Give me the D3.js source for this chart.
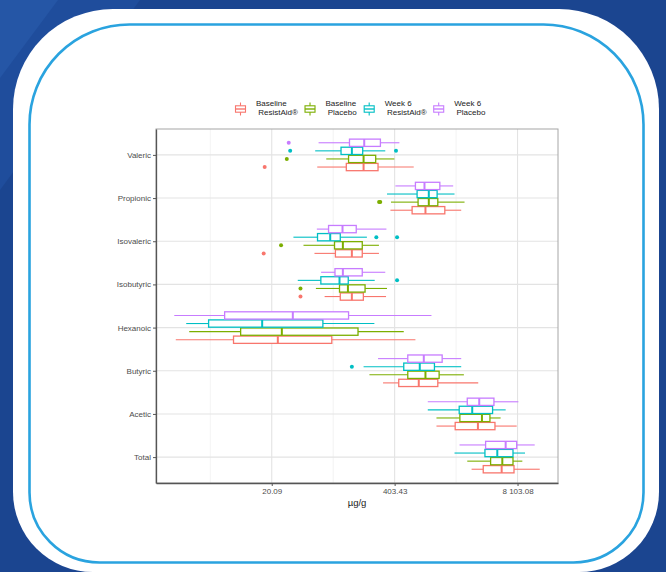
<!DOCTYPE html>
<html>
<head>
<meta charset="utf-8">
<script src="https://cdn.jsdelivr.net/npm/d3@7"></script>
<style>
  html, body { margin: 0; padding: 0; background: #1b4590; }
  svg { display: block; font-family: "Liberation Sans", Arial, sans-serif; }
</style>
</head>
<body>
<svg id="chart" width="666" height="572"></svg>
<script>
// Short-chain fatty acids, µg/g, five-number summaries [lower whisker, Q1, median, Q3, upper whisker]
const categories = ["Valeric", "Propionic", "Isovaleric", "Isobutyric", "Hexanoic", "Butyric", "Acetic", "Total"];

const groupKeys = ["baselineResistAid", "baselinePlacebo", "week6ResistAid", "week6Placebo"];
const groupLabels = [["Baseline", " ResistAid®"], ["Baseline", " Placebo"], ["Week 6", " ResistAid®"], ["Week 6", " Placebo"]];
const groupColors = ["#F8766D", "#7CAE00", "#00BFC4", "#C77CFF"];

const baselineResistAid = [
  [61, 124, 189, 269, 643],
  [364, 618, 856, 1373, 2049],
  [57, 95, 142, 183, 275],
  [73, 107, 142, 188, 327],
  [1.93, 7.9, 23.3, 87, 670],
  [304, 446, 727, 1157, 3105],
  [1120, 1769, 3081, 4670, 7936],
  [2640, 3508, 5500, 7433, 13930]
];
const baselinePlacebo = [
  [76, 131, 189, 254, 401],
  [369, 715, 929, 1157, 2222],
  [43.6, 93, 114, 183, 275],
  [59, 105, 129, 196, 335],
  [2.68, 9.4, 25.7, 165, 504],
  [218, 556, 856, 1195, 2187],
  [1120, 1983, 3399, 4131, 5363],
  [2375, 4200, 5589, 7253, 9110]
];
const week6ResistAid = [
  [58, 109, 142, 185, 321],
  [335, 698, 929, 1138, 1740],
  [34.1, 61.4, 83.7, 107, 205],
  [37.9, 66.6, 105, 130, 248],
  [2.49, 4.3, 15.9, 70, 246],
  [189, 504, 745, 1066, 2049],
  [906, 1951, 2681, 4407, 6064],
  [1740, 3657, 4944, 7253, 9731]
];
const week6Placebo = [
  [63, 134, 192, 285, 453],
  [411, 670, 836, 1216, 1684],
  [60.4, 80.4, 113, 158, 330],
  [67, 94, 114, 183, 321],
  [1.86, 6.36, 33.6, 131, 991],
  [269, 556, 822, 1287, 2049],
  [906, 2375, 3182, 4555, 8267],
  [1967, 3716, 6064, 7936, 12320]
];

// Outlying points: [category, value]
const outliersBaselineResistAid = [["Valeric", 16.9], ["Isovaleric", 16.5], ["Isobutyric", 40.5]];
const outliersBaselinePlacebo = [["Valeric", 29.0], ["Propionic", 276], ["Propionic", 284], ["Isovaleric", 25.2], ["Isobutyric", 40.5]];
const outliersWeek6ResistAid = [["Valeric", 31.5], ["Valeric", 417], ["Isovaleric", 258], ["Isovaleric", 428], ["Isobutyric", 428], ["Butyric", 142]];
const outliersWeek6Placebo = [["Valeric", 30.4]];

const xTickValues = [Math.exp(3), Math.exp(6), Math.exp(9)];
const xTickLabels = ["20.09", "403.43", "8 103.08"];
const xMinorValues = [Math.exp(1.5), Math.exp(4.5), Math.exp(7.5)];
const xTitle = "µg/g";

const summaries = [baselineResistAid, baselinePlacebo, week6ResistAid, week6Placebo];
const outliers = [outliersBaselineResistAid, outliersBaselinePlacebo, outliersWeek6ResistAid, outliersWeek6Placebo];

const svg = d3.select("#chart");
const W = 666, H = 572;

// ---- backdrop ----
svg.append("rect").attr("width", W).attr("height", H).attr("fill", "#1b4590");
svg.append("path").attr("d", "M0,0 L140,0 L0,190 Z").attr("fill", "#1f4d9c");
svg.append("path").attr("d", "M0,0 L58,0 L0,78 Z").attr("fill", "#2556a6");

function roundedRect(x0, y0, x1, y1, rt, rb) {
  return `M${x0 + rt},${y0} L${x1 - rt},${y0} A${rt},${rt} 0 0 1 ${x1},${y0 + rt}` +
         ` L${x1},${y1 - rb} A${rb},${rb} 0 0 1 ${x1 - rb},${y1}` +
         ` L${x0 + rb},${y1} A${rb},${rb} 0 0 1 ${x0},${y1 - rb}` +
         ` L${x0},${y0 + rt} A${rt},${rt} 0 0 1 ${x0 + rt},${y0} Z`;
}
svg.append("path").attr("d", roundedRect(13, 9, 659, 572, 100, 80)).attr("fill", "#ffffff");
svg.append("path").attr("d", roundedRect(29.5, 24.5, 643.5, 562.5, 100, 70))
  .attr("fill", "none").attr("stroke", "#2aa3df").attr("stroke-width", 2.6);

// ---- plot panel ----
const panel = { left: 156, right: 558, top: 129, bottom: 483 };

const allValues = [];
summaries.forEach(s => s.forEach(r => allValues.push(r[0], r[4])));
outliers.forEach(o => o.forEach(p => allValues.push(p[1])));
const lnExt = d3.extent(allValues, v => Math.log(v));
const pad = (lnExt[1] - lnExt[0]) * 0.05;

const x = d3.scaleLog().base(Math.E)
  .domain([Math.exp(lnExt[0] - pad), Math.exp(lnExt[1] + pad)])
  .range([panel.left, panel.right]);

const y = d3.scalePoint().domain(categories).range([panel.top, panel.bottom]).padding(0.6);
const step = y.step();
// top-to-bottom order inside each category: week 6 placebo first, baseline ResistAid last
const yGroup = d3.scaleBand().domain(groupKeys.slice().reverse())
  .range([-0.375 * step, 0.375 * step]).paddingInner(0.1).paddingOuter(0.05);

const g = svg.append("g");

// grid
g.selectAll(".gminor").data(xMinorValues).join("line")
  .attr("x1", d => x(d)).attr("x2", d => x(d))
  .attr("y1", panel.top).attr("y2", panel.bottom)
  .attr("stroke", "#ebebeb").attr("stroke-width", 0.6);
g.selectAll(".gmajor").data(xTickValues).join("line")
  .attr("x1", d => x(d)).attr("x2", d => x(d))
  .attr("y1", panel.top).attr("y2", panel.bottom)
  .attr("stroke", "#e3e3e3").attr("stroke-width", 1.1);
g.selectAll(".gcat").data(categories).join("line")
  .attr("x1", panel.left).attr("x2", panel.right)
  .attr("y1", d => y(d)).attr("y2", d => y(d))
  .attr("stroke", "#e3e3e3").attr("stroke-width", 1.1);

// panel border
g.append("rect")
  .attr("x", panel.left).attr("y", panel.top)
  .attr("width", panel.right - panel.left).attr("height", panel.bottom - panel.top)
  .attr("fill", "none").attr("stroke", "#a6a6a6").attr("stroke-width", 1);

// boxplots
groupKeys.forEach((key, gi) => {
  const color = groupColors[gi];
  const rows = summaries[gi];
  const bw = yGroup.bandwidth();
  const layer = g.append("g").attr("class", key);
  rows.forEach((r, ci) => {
    const cy = y(categories[ci]) + yGroup(key) + bw / 2;
    const [lo, q1, med, q3, hi] = r;
    layer.append("line").attr("x1", x(lo)).attr("x2", x(q1)).attr("y1", cy).attr("y2", cy)
      .attr("stroke", color).attr("stroke-width", 1.1);
    layer.append("line").attr("x1", x(q3)).attr("x2", x(hi)).attr("y1", cy).attr("y2", cy)
      .attr("stroke", color).attr("stroke-width", 1.1);
    layer.append("rect").attr("x", x(q1)).attr("y", cy - bw / 2)
      .attr("width", x(q3) - x(q1)).attr("height", bw)
      .attr("fill", "#ffffff").attr("stroke", color).attr("stroke-width", 1.3);
    layer.append("line").attr("x1", x(med)).attr("x2", x(med))
      .attr("y1", cy - bw / 2).attr("y2", cy + bw / 2)
      .attr("stroke", color).attr("stroke-width", 2);
  });
  layer.selectAll("circle").data(outliers[gi]).join("circle")
    .attr("cx", d => x(d[1]))
    .attr("cy", d => y(d[0]) + yGroup(key) + bw / 2)
    .attr("r", 2).attr("fill", color);
});

// axes
const xAxis = d3.axisBottom(x).tickValues(xTickValues)
  .tickFormat((d, i) => xTickLabels[i]).tickSize(3).tickSizeOuter(0).tickPadding(2);
const xg = g.append("g").attr("transform", `translate(0,${panel.bottom})`).call(xAxis);
xg.select(".domain").attr("stroke", "#555").attr("stroke-width", 1.3);
xg.selectAll(".tick line").attr("stroke", "#555");
xg.selectAll(".tick text").attr("fill", "#4d4d4d").attr("font-size", 8);

const yAxis = d3.axisLeft(y).tickSize(3).tickSizeOuter(0).tickPadding(2);
const yg = g.append("g").attr("transform", `translate(${panel.left},0)`).call(yAxis);
yg.select(".domain").attr("stroke", "#555").attr("stroke-width", 1.3);
yg.selectAll(".tick line").attr("stroke", "#555");
yg.selectAll(".tick text").attr("fill", "#4d4d4d").attr("font-size", 8);

g.append("text").attr("x", (panel.left + panel.right) / 2).attr("y", 506)
  .attr("text-anchor", "middle").attr("font-size", 9.5).attr("fill", "#1a1a1a").text(xTitle);

// legend
const legend = g.append("g").attr("class", "legend");
let lx = 235;
const keyCy = 109;
groupKeys.forEach((key, gi) => {
  const color = groupColors[gi];
  const item = legend.append("g");
  const kx = lx + 5.5;
  item.append("line").attr("x1", kx).attr("x2", kx).attr("y1", keyCy - 6.5).attr("y2", keyCy + 6.5)
    .attr("stroke", color).attr("stroke-width", 1.1);
  item.append("rect").attr("x", kx - 5).attr("y", keyCy - 3.2).attr("width", 10).attr("height", 6.4)
    .attr("fill", "#ffffff").attr("stroke", color).attr("stroke-width", 1.1);
  item.append("line").attr("x1", kx - 5).attr("x2", kx + 5).attr("y1", keyCy).attr("y2", keyCy)
    .attr("stroke", color).attr("stroke-width", 1.4);
  const tx = lx + 21;
  const t = item.append("text").attr("font-size", 8).attr("fill", "#222").attr("xml:space", "preserve");
  t.append("tspan").attr("x", tx).attr("y", 106).text(groupLabels[gi][0]);
  t.append("tspan").attr("x", tx).attr("y", 115).text(groupLabels[gi][1]);
  const w = t.node().getBBox().width;
  lx = tx + w + 6.5;
});
</script>
</body>
</html>
